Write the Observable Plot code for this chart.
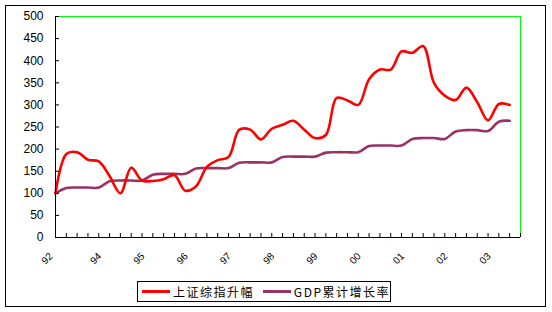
<!DOCTYPE html>
<html><head><meta charset="utf-8">
<script src="https://cdn.jsdelivr.net/npm/d3@7"></script>
<script src="https://cdn.jsdelivr.net/npm/@observablehq/plot@0.6"></script>
<style>
body{margin:0;background:#fff;}
#wrap{position:relative;width:552px;height:312px;overflow:hidden;font-family:"Liberation Sans",Arial,sans-serif;}
#chart{position:absolute;left:0;top:0;}
#frame{position:absolute;left:5px;top:5px;width:539px;height:300px;border:1px solid #000;pointer-events:none;}
#legend{position:absolute;left:137px;top:281px;width:252px;height:19px;border:1px solid #000;background:#fff;display:flex;align-items:center;font-family:"Noto Sans CJK SC",sans-serif;font-size:12px;letter-spacing:1.5px;white-space:nowrap;}
.sw{display:inline-block;width:29px;height:3px;margin:0 3px 0 4px;}
</style></head><body>
<div id="wrap"><div id="chart"></div><div id="frame"></div><div id="legend"></div></div>
<script>
// series names and colours
const seriesNames = ["上证综指升幅", "GDP累计增长率"];
const seriesColors = ["#ff0000", "#993366"];

// quarterly values (index, base = 100)
const shIndex = [100, 189, 193, 176, 172, 139, 100, 158, 129, 128, 132, 141, 106, 116,
  160, 175, 182, 244, 244, 222, 246, 255, 264, 244, 225, 232, 316, 310, 300, 358,
  380, 380, 421, 418, 433, 350, 321, 311, 339, 306, 265, 302, 300];
const gdpGrowth = [100, 112, 113, 113, 113, 127, 129, 129, 129, 142, 144, 144, 144, 156,
  157, 157, 157, 169, 170, 170, 170, 182, 183, 183, 183, 192, 193, 193, 193, 207,
  208, 208, 208, 223, 225, 225, 223, 240, 243, 243, 241, 262, 264];

// axis ticks
const xCategoryTicks = [0,1,2,3,4,5,6,7,8,9,10,11,12,13,14,15,16,17,18,19,20,21,22,23,24,25,26,27,28,29,30,31,32,33,34,35,36,37,38,39,40,41,42,43];
const xTickPos = [-0.5, 4, 8, 12, 16, 20, 24, 28, 32, 36, 40];
const xTickLabels = ["92", "94", "95", "96", "97", "98", "99", "00", "01", "02", "03"];
const yTicks = [0, 50, 100, 150, 200, 250, 300, 350, 400, 450, 500];

const shRows = shIndex.map((v, i) => ({i, v}));
const gdpRows = gdpGrowth.map((v, i) => ({i, v}));
const xLabelRows = xTickPos.map((p, k) => ({p, t: xTickLabels[k]}));

const chart = Plot.plot({
  width: 552, height: 312,
  marginLeft: 55, marginRight: 32, marginTop: 16, marginBottom: 75,
  style: {fontFamily: "Liberation Sans, Arial, sans-serif", fontSize: "12px", background: "transparent", overflow: "visible"},
  x: {domain: [0, 43], axis: null},
  y: {domain: [0, 500], axis: null},
  marks: [
    Plot.ruleY([500], {stroke: "#00ff00", strokeWidth: 1}),
    Plot.ruleX([43], {stroke: "#00ff00", strokeWidth: 1}),
    Plot.line(gdpRows, {x: "i", y: "v", stroke: seriesColors[1], strokeWidth: 2.6, curve: "catmull-rom"}),
    Plot.line(shRows, {x: "i", y: "v", stroke: seriesColors[0], strokeWidth: 2.6, curve: "catmull-rom"}),
    Plot.ruleX([0], {stroke: "#000", strokeWidth: 1}),
    Plot.ruleY([0], {stroke: "#000", strokeWidth: 1}),
    Plot.ruleX(xCategoryTicks, {x: d => d, y1: 0, y2: 0, insetTop: -4, stroke: "#000", strokeWidth: 1}),
    Plot.ruleY(yTicks, {y: d => d, x1: 0, x2: 0, insetRight: -4, stroke: "#000", strokeWidth: 1}),
    Plot.text(yTicks, {x: 0, y: d => d, text: d => String(d), textAnchor: "end", dx: -12, fontSize: 12, fill: "#000"}),
    Plot.text(xLabelRows, {x: "p", y: 0, text: "t", rotate: -45, textAnchor: "end", dx: 1, dy: 17, fontSize: 10, fill: "#000"})
  ]
});
document.getElementById("chart").appendChild(chart);

const legend = document.getElementById("legend");
seriesNames.forEach((name, k) => {
  const sw = document.createElement("span");
  sw.className = "sw";
  sw.style.background = seriesColors[k];
  if (k === 1) sw.style.marginLeft = "9px";
  legend.appendChild(sw);
  const tx = document.createElement("span");
  tx.textContent = name;
  legend.appendChild(tx);
});
</script></body></html>
